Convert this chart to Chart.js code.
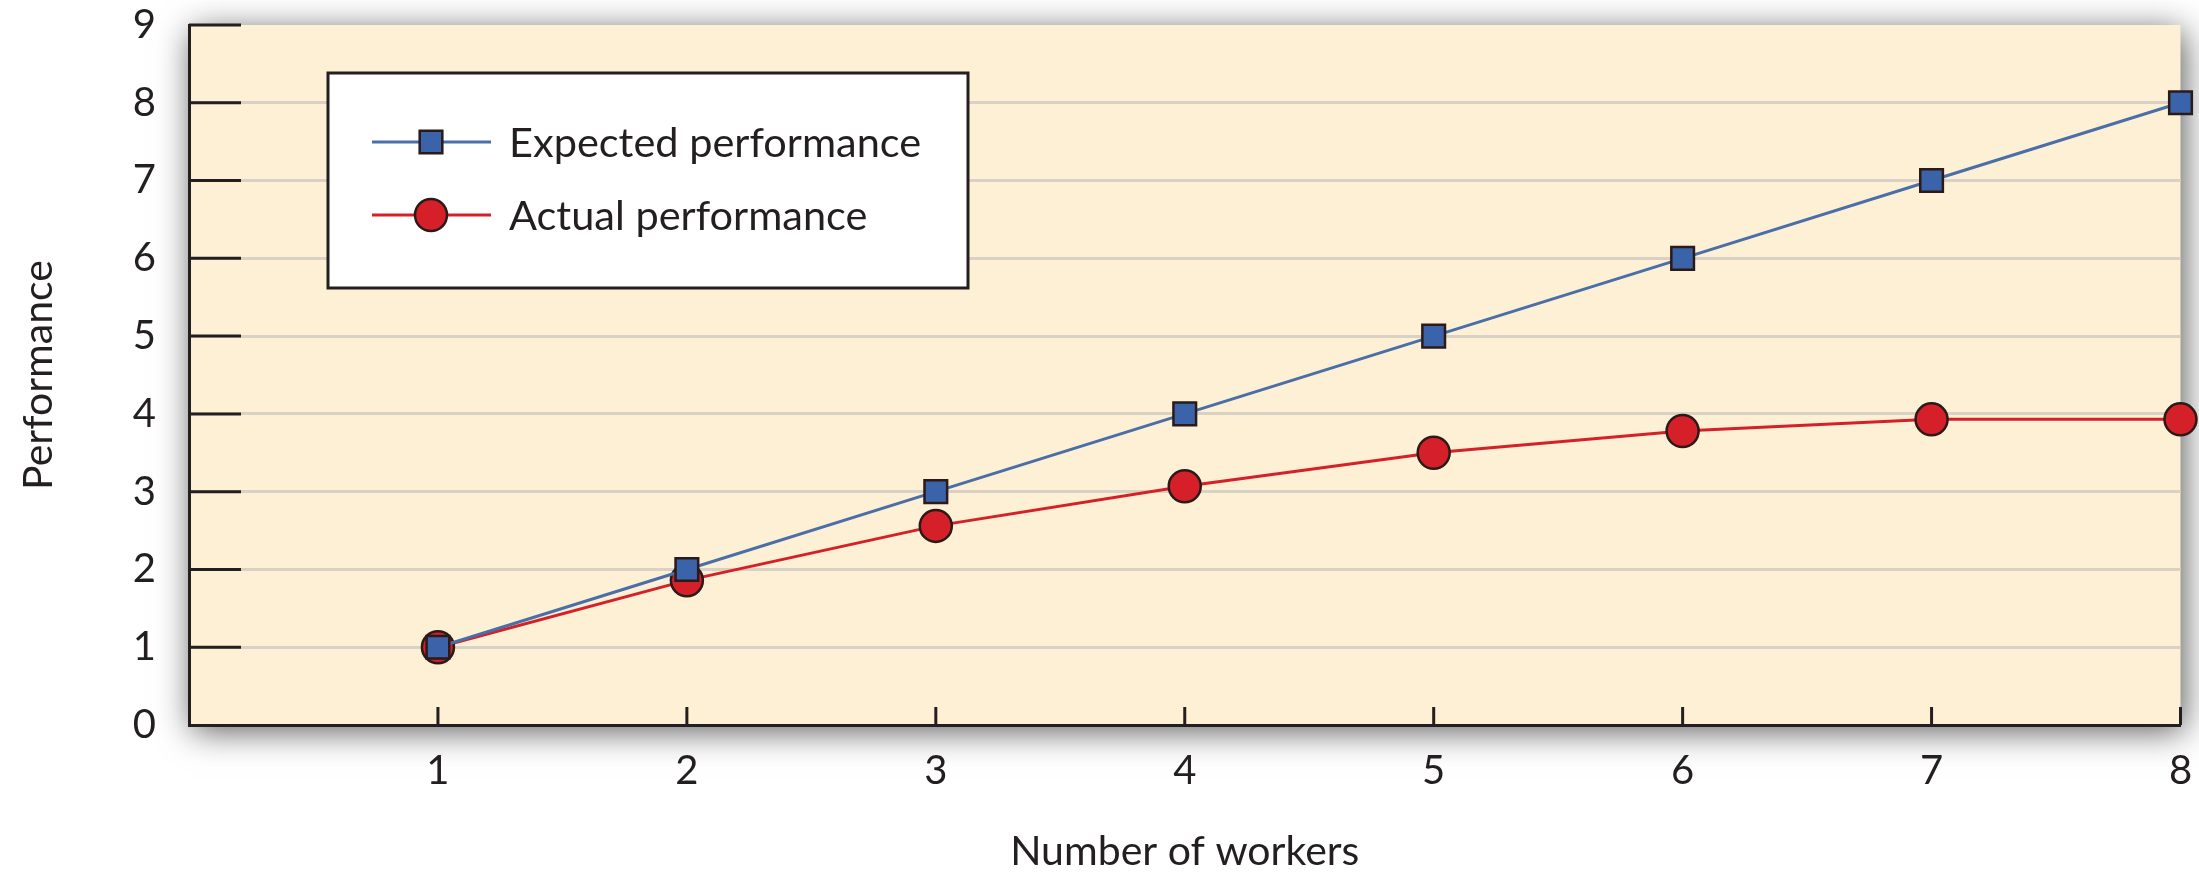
<!DOCTYPE html>
<html>
<head>
<meta charset="utf-8">
<script src="https://cdn.jsdelivr.net/npm/chart.js@4/dist/chart.umd.min.js"></script>
<style>
  html, body { margin: 0; background: #fff; }
  #wrap { width: 2199px; height: 872px; }
</style>
</head>
<body>
<div id="wrap"><canvas id="perfChart"></canvas></div>
<script>
const workers = [1, 2, 3, 4, 5, 6, 7, 8];
const expectedPerf = [1, 2, 3, 4, 5, 6, 7, 8];
const actualPerf = [1, 1.86, 2.56, 3.07, 3.5, 3.78, 3.93, 3.93];
const xTicks = [1, 2, 3, 4, 5, 6, 7, 8];
const yTicks = [0, 1, 2, 3, 4, 5, 6, 7, 8, 9];

const ink = '#231f20';
const cream = '#fdf0d4';
const FONT = 'Lato, sans-serif';

// cream plot panel with a soft drop shadow
const panelShadow = {
  id: 'panelShadow',
  beforeDraw(chart) {
    const { ctx, chartArea: a } = chart;
    ctx.save();
    ctx.shadowColor = 'rgba(0,0,0,0.65)';
    ctx.shadowBlur = 32;
    ctx.shadowOffsetX = 3;
    ctx.shadowOffsetY = 6;
    ctx.fillStyle = cream;
    ctx.fillRect(a.left, a.top, a.right - a.left, a.bottom - a.top);
    ctx.restore();
  }
};

// tick marks pointing into the plot
const innerTicks = {
  id: 'innerTicks',
  beforeDatasetsDraw(chart) {
    const { ctx, chartArea: a, scales } = chart;
    ctx.save();
    ctx.strokeStyle = ink;
    ctx.lineWidth = 3;
    ctx.beginPath();
    yTicks.forEach(v => {
      if (v === 0) return;
      const y = scales.y.getPixelForValue(v);
      ctx.moveTo(a.left, y);
      ctx.lineTo(a.left + 52, y);
    });
    xTicks.forEach(v => {
      const x = scales.x.getPixelForValue(v);
      ctx.moveTo(x, a.bottom);
      ctx.lineTo(x, a.bottom - 18);
    });
    ctx.stroke();
    ctx.restore();
  }
};

// boxed legend with line + marker samples
const boxLegend = {
  id: 'boxLegend',
  afterDraw(chart) {
    const { ctx, chartArea: a } = chart;
    const bx = a.left + 139, by = a.top + 48, bw = 640, bh = 215;
    ctx.save();
    ctx.fillStyle = '#fff';
    ctx.fillRect(bx, by, bw, bh);
    ctx.strokeStyle = ink;
    ctx.lineWidth = 3;
    ctx.strokeRect(bx, by, bw, bh);
    chart.data.datasets.forEach((ds, i) => {
      const y = by + 69 + i * 73;
      ctx.strokeStyle = ds.borderColor;
      ctx.lineWidth = ds.borderWidth;
      ctx.beginPath();
      ctx.moveTo(bx + 44, y);
      ctx.lineTo(bx + 163, y);
      ctx.stroke();
      ctx.fillStyle = ds.pointBackgroundColor;
      ctx.strokeStyle = ds.pointBorderColor;
      ctx.lineWidth = ds.pointBorderWidth;
      Chart.helpers.drawPoint(ctx, {
        pointStyle: ds.pointStyle, radius: ds.pointRadius,
        borderWidth: ds.pointBorderWidth, rotation: 0
      }, bx + 103, y);
      ctx.fillStyle = ink;
      ctx.font = '41.5px ' + FONT;
      ctx.textBaseline = 'middle';
      ctx.fillText(ds.label, bx + 181, y + 2);
    });
    ctx.restore();
  }
};

new Chart(document.getElementById('perfChart'), {
  type: 'line',
  data: {
    datasets: [{
      label: 'Expected performance',
      data: workers.map((w, i) => ({ x: w, y: expectedPerf[i] })),
      borderColor: '#4a6ea8',
      borderWidth: 3,
      pointStyle: 'rect',
      pointRadius: 16,
      pointBackgroundColor: '#3b63aa',
      pointBorderColor: '#2b1a17',
      pointBorderWidth: 2.5,
      clip: false
    }, {
      label: 'Actual performance',
      data: workers.map((w, i) => ({ x: w, y: actualPerf[i] })),
      borderColor: '#d52029',
      borderWidth: 3,
      pointStyle: 'circle',
      pointRadius: 16,
      pointBackgroundColor: '#d52029',
      pointBorderColor: '#2b1a17',
      pointBorderWidth: 2.5,
      clip: false
    }]
  },
  options: {
    responsive: true,
    maintainAspectRatio: false,
    animation: false,
    layout: { padding: { left: 0, right: 18, top: 25, bottom: 0 } },
    plugins: {
      legend: { display: false },
      tooltip: { enabled: false }
    },
    scales: {
      x: {
        type: 'linear',
        min: 0,
        max: 8,
        afterBuildTicks: s => { s.ticks = xTicks.map(v => ({ value: v })); },
        afterFit: s => { s.height = 147; s.paddingLeft = 0; s.paddingRight = 0; },
        grid: { display: false, drawTicks: false },
        border: { display: true, color: ink, width: 3 },
        ticks: { color: ink, padding: 22, font: { family: FONT, size: 40 } },
        title: {
          display: true, text: 'Number of workers', color: ink,
          padding: { top: 0, bottom: 0 }, font: { family: FONT, size: 41, lineHeight: 1 }
        }
      },
      y: {
        min: 0,
        max: 9,
        afterBuildTicks: s => { s.ticks = yTicks.map(v => ({ value: v })); },
        afterFit: s => { s.width = 189; s.paddingTop = 0; s.paddingBottom = 0; },
        grid: {
          drawTicks: false,
          lineWidth: 3,
          color: c => (c.tick && (c.tick.value === 0 || c.tick.value === 9)) ? 'rgba(0,0,0,0)' : '#d9d2c4'
        },
        border: { display: true, color: ink, width: 3 },
        ticks: { color: ink, padding: 33, font: { family: FONT, size: 40 } },
        title: {
          display: true, text: 'Performance', color: ink,
          padding: { top: 18, bottom: 0 }, font: { family: FONT, size: 41, lineHeight: 1 }
        }
      }
    }
  },
  plugins: [panelShadow, innerTicks, boxLegend]
});
</script>
</body>
</html>
